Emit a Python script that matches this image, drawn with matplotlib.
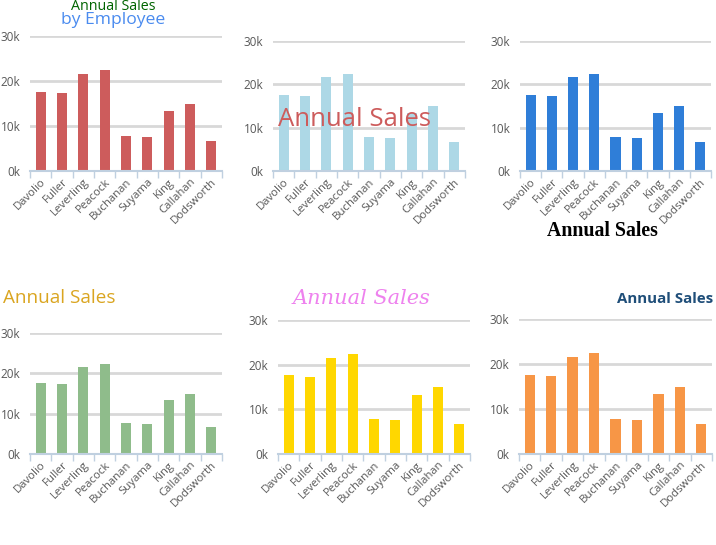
import numpy as np
import matplotlib
matplotlib.use('Agg')
import matplotlib.pyplot as plt

# Data
employees = ['Davolio', 'Fuller', 'Leverling', 'Peacock', 'Buchanan',
             'Suyama', 'King', 'Callahan', 'Dodsworth']
sales = [17600, 17300, 21600, 22400, 7800, 7550, 13300, 14900, 6700]
y_ticks = [0, 10000, 20000, 30000]
y_tick_labels = ['0k', '10k', '20k', '30k']
bar_colors = ['#CD5C5C', '#ADD8E6', '#2F7ED8', '#8FBC8B', '#FFD700', '#F79646']

W, H = 716, 545
plt.rcParams['font.family'] = ['Open Sans', 'DejaVu Sans']

fig = plt.figure(figsize=(W / 100, H / 100), dpi=100)


def px_axes(x0, x1, ytop, ybot):
    return fig.add_axes([x0 / W, 1 - ybot / H, (x1 - x0) / W, (ybot - ytop) / H])


def draw_chart(ax, color):
    x = np.arange(len(employees))
    ax.bar(x, sales, width=0.48, color=color, zorder=3)
    ax.set_xlim(-0.5, len(employees) - 0.5)
    ax.set_ylim(0, 30000)
    ax.set_yticks(y_ticks)
    ax.set_yticklabels(y_tick_labels)
    ax.set_xticks(x)
    ax.set_xticklabels(employees, rotation=45, ha='right', rotation_mode='anchor')
    ax.set_xticks(np.arange(len(employees) + 1) - 0.5, minor=True)
    ax.tick_params(axis='x', which='major', length=0, pad=4, labelsize=8.2, labelcolor='#585858')
    ax.tick_params(axis='x', which='minor', length=5, color='#C0D0E0', width=1)
    ax.tick_params(axis='y', length=0, pad=7, labelsize=8.5, labelcolor='#585858')
    ax.grid(axis='y', color='#D8D8D8', linewidth=2, zorder=0)
    for s in ['top', 'right', 'left']:
        ax.spines[s].set_visible(False)
    ax.spines['bottom'].set_color('#C0D0E0')
    ax.spines['bottom'].set_linewidth(1.5)
    ax.spines['bottom'].set_zorder(4)


# ---- Row 1 ----
ax1 = px_axes(30, 222, 36, 171)
draw_chart(ax1, bar_colors[0])
fig.text(113 / W, 1 - 6 / H, 'Annual Sales', color='#006400', fontsize=10.3,
         ha='center', va='center')
fig.text(113 / W, 1 - 20 / H, 'by Employee', color='#4A8BEF', fontsize=12.6,
         ha='center', va='center')

ax2 = px_axes(273, 465, 41, 171)
draw_chart(ax2, bar_colors[1])
fig.text(354 / W, 1 - 119 / H, 'Annual Sales', color='#CD5C5C', fontsize=18.5,
         ha='center', va='center', zorder=10)

ax3 = px_axes(520, 711, 41, 171)
draw_chart(ax3, bar_colors[2])
fig.text(602 / W, 1 - 231 / H, 'Annual Sales', color='black', fontsize=14.3,
         fontweight='bold', family='Liberation Serif', ha='center', va='center')

# ---- Row 2 ----
ax4 = px_axes(30, 222, 333, 454)
draw_chart(ax4, bar_colors[3])
fig.text(3 / W, 1 - 298 / H, 'Annual Sales', color='#DAA520', fontsize=13.6,
         ha='left', va='center')

ax5 = px_axes(278, 470, 320, 454)
draw_chart(ax5, bar_colors[4])
fig.text(362 / W, 1 - 298 / H, 'Annual Sales', color='#EE82EE', fontsize=15,
         style='italic', family='DejaVu Serif', ha='center', va='center')

ax6 = px_axes(519, 712, 319, 454)
draw_chart(ax6, bar_colors[5])
fig.text(713 / W, 1 - 299 / H, 'Annual Sales', color='#1F4E79', fontsize=10.8,
         fontweight='bold', ha='right', va='center')

fig.savefig('out.png', dpi=100)
